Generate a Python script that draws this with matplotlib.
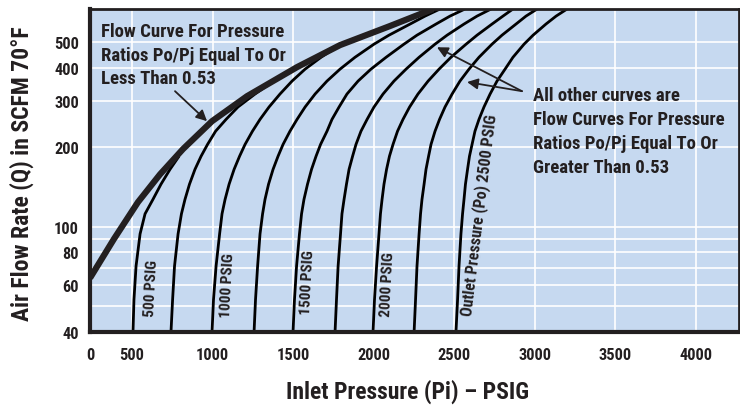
import matplotlib
matplotlib.use("Agg")
import matplotlib.pyplot as plt
from matplotlib.ticker import NullFormatter

plt.rcParams['font.family'] = ['Roboto Condensed', 'Roboto', 'DejaVu Sans']
plt.rcParams['font.weight'] = 'bold'

ink = '#231F20'
panel = '#C6D9F0'

# choked flow envelope (Po/Pi <= 0.53)
env_p = [239, 388, 537, 674, 817, 997, 1214, 1525, 1792, 2102, 2370]
env_q = [64, 90, 124, 158, 197, 251, 312, 402, 487, 575, 667]

# flow values shared by the outlet pressure curves (read row by row)
rows_q = [40, 53, 71, 94, 112, 127, 145, 165, 185, 205, 230, 255, 284, 318,
          356, 395, 438, 491, 531, 585, 627, 667]

c500_p = [506, 512, 525, 550, 581, 630, 680, 736, 792]
c500_q = rows_q[:9]
c750_p = [742, 752, 764, 786, 807, 829, 857, 891, 929, 969, 1019, 1084, 1158, 1264, 1345, 1425]
c750_q = rows_q[:14] + [344, 368]
c1000_p = [997, 1006, 1022, 1044, 1059, 1078, 1103, 1134, 1168, 1202, 1248, 1295, 1351,
           1419, 1494, 1575, 1674, 1798]
c1000_q = rows_q[:18]
c1250_p = [1258, 1267, 1280, 1295, 1311, 1326, 1348, 1376, 1407, 1438, 1481, 1525, 1575,
           1637, 1711, 1792, 1885, 2003, 2096, 2227, 2320, 2413]
c1500_p = [1500, 1509, 1522, 1540, 1553, 1568, 1590, 1615, 1643, 1671, 1711, 1742, 1786,
           1835, 1904, 1984, 2078, 2189, 2270, 2388, 2475, 2568]
c1750_p = [1761, 1770, 1780, 1795, 1804, 1817, 1832, 1848, 1870, 1891, 1922, 1960, 2003,
           2059, 2127, 2202, 2283, 2382, 2457, 2562, 2643, 2730]
c2000_p = [1997, 2006, 2019, 2034, 2043, 2053, 2065, 2081, 2099, 2121, 2149, 2183, 2224,
           2276, 2339, 2407, 2481, 2575, 2643, 2736, 2804, 2866]
c2250_p = [2252, 2261, 2270, 2283, 2292, 2301, 2314, 2326, 2342, 2357, 2382, 2410, 2444,
           2488, 2537, 2593, 2655, 2736, 2798, 2885, 2947, 3016]
c2500_p = [2512, 2522, 2531, 2543, 2553, 2562, 2571, 2584, 2596, 2612, 2630, 2655, 2686,
           2724, 2767, 2817, 2866, 2935, 2991, 3071, 3134, 3202]

curves = [(c500_p, c500_q), (c750_p, c750_q), (c1000_p, c1000_q),
          (c1250_p, rows_q), (c1500_p, rows_q), (c1750_p, rows_q),
          (c2000_p, rows_q), (c2250_p, rows_q), (c2500_p, rows_q)]

x_ticks = [239, 500, 1000, 1500, 2000, 2500, 3000, 3500, 4000]
x_labels = ['0', '500', '1000', '1500', '2000', '2500', '3000', '3500', '4000']
y_ticks = [40, 60, 80, 100, 200, 300, 400, 500]
y_labels = ['40', '60', '80', '100', '200', '300', '400', '500']
y_grid = [50, 70, 90]

fig = plt.figure(figsize=(7.4, 4.06), dpi=100)
ax = fig.add_axes([90 / 740, 1 - 333 / 406, 649 / 740, 323 / 406])
ax.set_facecolor(panel)
ax.set_yscale('log')
ax.set_xlim(239, 4270)
ax.set_ylim(40, 667)

ax.set_xticks(x_ticks)
ax.set_xticklabels(x_labels)
ax.set_yticks(y_ticks)
ax.set_yticklabels(y_labels)
ax.set_yticks(y_grid, minor=True)
ax.yaxis.set_minor_formatter(NullFormatter())
ax.tick_params(which='both', length=0, labelsize=11.8, colors=ink)
ax.tick_params(axis='x', pad=11)
ax.tick_params(axis='y', pad=8)
ax.grid(axis='x', which='major', color='white', lw=1.2)
ax.grid(axis='y', which='both', color='white', lw=1.2)
ax.set_axisbelow(True)

for side, w in [('left', 3), ('bottom', 3), ('top', 2), ('right', 2)]:
    ax.spines[side].set_color(ink)
    ax.spines[side].set_linewidth(w)

for p, q in curves:
    ax.plot(p, q, color='black', lw=2.0, solid_capstyle='butt')
ax.plot(env_p, env_q, color=ink, lw=4.5, solid_capstyle='butt')

ax.text(307, 595, 'Flow Curve For Pressure\nRatios Po/Pj Equal To Or\nLess Than 0.53',
        fontsize=13.5, color=ink, va='top', ha='left', linespacing=1.4)
ax.text(2991, 340, 'All other curves are\nFlow Curves For Pressure\nRatios Po/Pj Equal To Or\nGreater Than 0.53',
        fontsize=13.5, color=ink, va='top', ha='left', linespacing=1.42)

arrow = dict(arrowstyle='-|>', color=ink, lw=1.3, mutation_scale=16, shrinkA=0, shrinkB=0)
ax.annotate('', xy=(966, 251), xytext=(767, 326), arrowprops=arrow)
ax.annotate('', xy=(2394, 478), xytext=(2922, 326), arrowprops=arrow)
ax.annotate('', xy=(2581, 353), xytext=(2922, 326), arrowprops=arrow)

for x, y, s in [(618, 59, '500 PSIG'), (1096, 60.5, '1000 PSIG'),
                (1593, 62, '1500 PSIG'), (2090, 61, '2000 PSIG')]:
    ax.text(x, y, s, rotation=87, fontsize=11, color=ink, ha='center', va='center')
ax.text(2655, 112, 'Outlet Pressure (Po) 2500 PSIG', rotation=83, fontsize=11.5,
        color=ink, ha='center', va='center')

fig.text(408 / 740, 1 - 392 / 406, 'Inlet Pressure (Pi) \u2013 PSIG', fontsize=17,
         color=ink, ha='center', va='center')
fig.text(22 / 740, 1 - 174 / 406, 'Air Flow Rate (Q) in SCFM 70\u00b0F', fontsize=17,
         color=ink, ha='center', va='center', rotation=90)

fig.savefig('out.png', dpi=100)
